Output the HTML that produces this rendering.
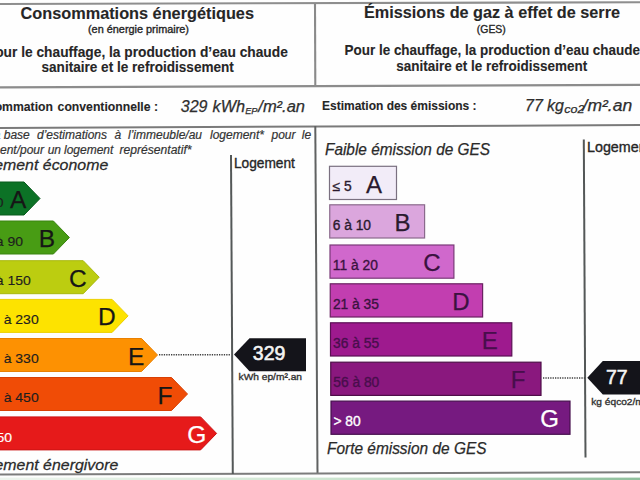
<!DOCTYPE html>
<html><head><meta charset="utf-8">
<style>
html,body{margin:0;padding:0;background:#fefefe;width:640px;height:480px;overflow:hidden}
svg{display:block}
svg{stroke-width:0.35px}
text{font-family:"Liberation Sans",sans-serif}
.b{font-weight:bold;stroke-width:0.1px}
.i{font-style:italic}
</style></head><body>
<svg width="640" height="480" viewBox="0 0 640 480">
<rect x="0" y="0" width="640" height="480" fill="#fefefe"/>
<!-- bottom green tint -->
<defs><linearGradient id="gb" x1="0" x2="1" y1="0" y2="0"><stop offset="0" stop-color="#eef5ee"/><stop offset="0.5" stop-color="#cfe6d2"/><stop offset="1" stop-color="#8fbf9c"/></linearGradient></defs>
<rect x="0" y="477.6" width="640" height="2.4" fill="url(#gb)"/>

<!-- lines -->
<g fill="none" stroke="none">
<line x1="0" y1="4.05" x2="640" y2="2.2" stroke="#8e8e8e" stroke-width="2.1"/>
<line x1="315" y1="3.5" x2="315.3" y2="86" stroke="#8a8a8a" stroke-width="2.1"/>
<line x1="0" y1="87.4" x2="640" y2="84.8" stroke="#8c8c8c" stroke-width="2.2"/>
<line x1="0" y1="127.9" x2="640" y2="125.1" stroke="#7a7a7a" stroke-width="2"/>
<line x1="315.3" y1="126" x2="317.5" y2="474" stroke="#606262" stroke-width="2"/>
<line x1="0" y1="474.6" x2="640" y2="472.2" stroke="#7c7c7c" stroke-width="2"/>
<line x1="231" y1="155" x2="232.8" y2="474" stroke="#545858" stroke-width="2"/>
<line x1="583.8" y1="139.5" x2="585.5" y2="457.5" stroke="#545858" stroke-width="2"/>
</g>

<!-- header left -->
<g fill="#262626" stroke="#262626">
<text class="b" x="20.5" y="19.3" font-size="16.3" textLength="233.5" lengthAdjust="spacingAndGlyphs">Consommations énergétiques</text>
<text x="88" y="33" font-size="10.5" textLength="101" lengthAdjust="spacingAndGlyphs">(en énergie primaire)</text>
<text class="b" x="287.8" y="56.5" font-size="13.75" text-anchor="end">Pour le chauffage, la production d’eau chaude</text>
<text class="b" x="41.5" y="72" font-size="13.75" textLength="192.4" lengthAdjust="spacingAndGlyphs">sanitaire et le refroidissement</text>
</g>
<!-- header right -->
<g fill="#262626" stroke="#262626">
<text class="b" x="364" y="18" font-size="16.3" textLength="256" lengthAdjust="spacingAndGlyphs">Émissions de gaz à effet de serre</text>
<text x="476.8" y="33" font-size="10.7" textLength="29" lengthAdjust="spacingAndGlyphs">(GES)</text>
<text class="b" x="344.5" y="55.4" font-size="13.75" textLength="295.5" lengthAdjust="spacingAndGlyphs">Pour le chauffage, la production d’eau chaude</text>
<text class="b" x="396.2" y="71.3" font-size="13.75" textLength="191" lengthAdjust="spacingAndGlyphs">sanitaire et le refroidissement</text>
</g>

<!-- row 2 -->
<g fill="#262626" stroke="#262626">
<text class="b" x="52.9" y="111.4" font-size="12.2" text-anchor="end">Consommation</text>
<text class="b" x="57.6" y="111.3" font-size="12.2" textLength="100.4" lengthAdjust="spacingAndGlyphs">conventionnelle :</text>
<g class="i" font-size="16" fill="#2e2e2e" style="stroke-width:0.25px" stroke="#2e2e2e">
<text x="180.8" y="112">329</text>
<text x="212.5" y="112" textLength="32.5" lengthAdjust="spacingAndGlyphs">kWh</text>
<text x="245.2" y="113.5" font-size="9.2">EP</text>
<text x="258.3" y="112" textLength="46.7" lengthAdjust="spacingAndGlyphs">/m².an</text>
</g>
<text class="b" x="322" y="110.2" font-size="12.3" textLength="154.6" lengthAdjust="spacingAndGlyphs">Estimation des émissions :</text>
<g class="i" font-size="16" fill="#2e2e2e" style="stroke-width:0.25px" stroke="#2e2e2e">
<text x="525" y="110.6">77</text>
<text x="547" y="110.6">kg</text>
<text x="564.3" y="112.6" font-size="11" textLength="20.2" lengthAdjust="spacingAndGlyphs">co2</text>
<text x="582.6" y="110.6" textLength="49.6" lengthAdjust="spacingAndGlyphs">/m².an</text>
</g>
</g>

<!-- left panel texts -->
<g fill="#333" class="i" font-size="12" style="stroke-width:0.2px" stroke="#333">
<text x="-9" y="139">la</text>
<text x="3.75" y="139">base</text>
<text x="37" y="139">d’estimations</text>
<text x="114.5" y="139">à</text>
<text x="128" y="139">l’immeuble/au</text>
<text x="210" y="139">logement*</text>
<text x="271.5" y="139">pour</text>
<text x="301.8" y="139">le</text>
<text x="44" y="153.5" text-anchor="end">logement/pour</text>
<text x="47.7" y="153.5">un</text>
<text x="64" y="153.5">logement</text>
<text x="119.5" y="153.5" textLength="72" lengthAdjust="spacingAndGlyphs">représentatif*</text>
</g>
<g fill="#2a2a2a" class="i" font-size="15.5" style="stroke-width:0.25px" stroke="#2a2a2a">
<text x="108.3" y="170" text-anchor="end" transform="translate(108.3 0) scale(1.028 1) translate(-108.3 0)">Logement économe</text>
<text x="118.3" y="470" text-anchor="end" transform="translate(118.3 0) scale(1.028 1) translate(-118.3 0)">Logement énergivore</text>
</g>
<text x="233.9" y="167.6" font-size="14.2" fill="#262626" textLength="61" lengthAdjust="spacingAndGlyphs" stroke="#262626">Logement</text>

<!-- left arrows -->
<path d="M-10 182 H24.00 L40 198.50 L24.00 215.00 H-10 Z" fill="#0c7226" stroke="#085a1c" stroke-width="1"/>
<path d="M-10 221 H53.40 L69.4 237.50 L53.40 254.00 H-10 Z" fill="#489c14" stroke="#3a8410" stroke-width="1"/>
<path d="M-10 260.7 H83.20 L99.2 277.20 L83.20 293.70 H-10 Z" fill="#bccd10" stroke="#a8b80c" stroke-width="1"/>
<path d="M-10 299.4 H112.10 L128.1 315.90 L112.10 332.40 H-10 Z" fill="#fde300" stroke="#ecd000" stroke-width="1"/>
<path d="M-10 338.5 H141.50 L157.5 355.00 L141.50 371.50 H-10 Z" fill="#fd9102" stroke="#ea8000" stroke-width="1"/>
<path d="M-10 377.5 H171.50 L187.5 394.00 L171.50 410.50 H-10 Z" fill="#f04c06" stroke="#d84004" stroke-width="1"/>
<path d="M-10 416.9 H200.60 L216.6 433.40 L200.60 449.90 H-10 Z" fill="#e61a1a" stroke="#cc1414" stroke-width="1"/>
<text x="-23.6" y="206.70" font-size="13.6" fill="#1e1e1e" style="stroke-width:0.15px" transform="translate(-23.6 0) scale(1.03 1) translate(23.6 0)" stroke="#1e1e1e">≤ 50</text>
<text x="-23.6" y="245.70" font-size="13.6" fill="#1e1e1e" style="stroke-width:0.15px" transform="translate(-23.6 0) scale(1.03 1) translate(23.6 0)" stroke="#1e1e1e">51 à 90</text>
<text x="-23.6" y="285.40" font-size="13.6" fill="#1e1e1e" style="stroke-width:0.15px" transform="translate(-23.6 0) scale(1.03 1) translate(23.6 0)" stroke="#1e1e1e">91 à 150</text>
<text x="-23.6" y="324.10" font-size="13.6" fill="#1e1e1e" style="stroke-width:0.15px" transform="translate(-23.6 0) scale(1.03 1) translate(23.6 0)" stroke="#1e1e1e">151 à 230</text>
<text x="-23.6" y="363.20" font-size="13.6" fill="#1e1e1e" style="stroke-width:0.15px" transform="translate(-23.6 0) scale(1.03 1) translate(23.6 0)" stroke="#1e1e1e">231 à 330</text>
<text x="-23.6" y="402.20" font-size="13.6" fill="#1e1e1e" style="stroke-width:0.15px" transform="translate(-23.6 0) scale(1.03 1) translate(23.6 0)" stroke="#1e1e1e">331 à 450</text>
<text x="-23.4" y="441.60" font-size="13.6" fill="#fff" style="stroke-width:0.15px" transform="translate(-23.4 0) scale(1.03 1) translate(23.4 0)" stroke="#fff">&gt; 450</text>
<text x="18.2" y="208.00" font-size="24.5" fill="#161616" style="stroke-width:0.25px" text-anchor="middle" stroke="#161616">A</text>
<text x="46.9" y="247.00" font-size="24.5" fill="#161616" style="stroke-width:0.25px" text-anchor="middle" stroke="#161616">B</text>
<text x="77.9" y="286.70" font-size="24.5" fill="#161616" style="stroke-width:0.25px" text-anchor="middle" stroke="#161616">C</text>
<text x="106.8" y="325.40" font-size="24.5" fill="#161616" style="stroke-width:0.25px" text-anchor="middle" stroke="#161616">D</text>
<text x="136.2" y="364.50" font-size="24.5" fill="#161616" style="stroke-width:0.25px" text-anchor="middle" stroke="#161616">E</text>
<text x="164.9" y="403.50" font-size="24.5" fill="#161616" style="stroke-width:0.25px" text-anchor="middle" stroke="#161616">F</text>
<text x="196.9" y="442.90" font-size="24.5" fill="#fff" style="stroke-width:0.25px" text-anchor="middle" stroke="#fff">G</text>
<!-- dotted E -->
<line x1="159" y1="354.8" x2="231" y2="354.8" stroke="#404040" stroke-width="1.5" stroke-dasharray="1.3 1.1"/>
<!-- black arrow 329 -->
<path d="M234 354.6 L249.5 338.2 H306 V371.2 H249.5 Z" fill="#14141a"/>
<text x="252.8" y="360.4" font-size="20.6" fill="#f4f4f4" style="stroke-width:0.6px" textLength="32.6" lengthAdjust="spacingAndGlyphs" stroke="#f4f4f4">329</text>
<text x="238.6" y="380.3" font-size="9.6" fill="#333" textLength="63.4" lengthAdjust="spacingAndGlyphs" stroke="#333">kWh ep/m².an</text>

<!-- right panel -->
<g fill="#2a2a2a" class="i" font-size="15.9" style="stroke-width:0.25px" stroke="#2a2a2a">
<text x="325" y="154.8" textLength="165" lengthAdjust="spacingAndGlyphs">Faible émission de GES</text>
<text x="327" y="453.9" textLength="159.5" lengthAdjust="spacingAndGlyphs">Forte émission de GES</text>
</g>
<text x="587" y="152.4" font-size="14.3" fill="#262626" stroke="#262626">Logement</text>

<rect x="329.50" y="166.3" width="67.00" height="33.2" fill="#f2ecf8" stroke="#7a7080" stroke-width="1.2"/>
<rect x="329.75" y="204.8" width="94.85" height="33.2" fill="#dba6dd" stroke="#8a6a8c" stroke-width="1.2"/>
<rect x="330.00" y="245" width="123.90" height="33.2" fill="#d068cc" stroke="#7a3a78" stroke-width="1.2"/>
<rect x="330.25" y="283.8" width="152.35" height="33.2" fill="#c23eb0" stroke="#6a2262" stroke-width="1.2"/>
<rect x="330.50" y="322.8" width="181.30" height="33.2" fill="#9e1a8e" stroke="#5a1054" stroke-width="1.2"/>
<rect x="330.75" y="362.2" width="210.25" height="33.2" fill="#8a187e" stroke="#4e0e48" stroke-width="1.2"/>
<rect x="331.00" y="401.1" width="239.00" height="33.2" fill="#761a80" stroke="#46104e" stroke-width="1.2"/>
<text x="332.50" y="191.30" font-size="13.8" fill="#2a1a2e" stroke="#2a1a2e">≤ 5</text>
<text x="332.65" y="229.80" font-size="13.8" fill="#2a1a2e" stroke="#2a1a2e">6 à 10</text>
<text x="332.80" y="270.00" font-size="13.8" fill="#3a1240" stroke="#3a1240">11 à 20</text>
<text x="332.95" y="308.80" font-size="13.8" fill="#3a1240" stroke="#3a1240">21 à 35</text>
<text x="333.10" y="347.80" font-size="13.8" fill="#480e4c" stroke="#480e4c">36 à 55</text>
<text x="333.25" y="387.20" font-size="13.8" fill="#480e4c" stroke="#480e4c">56 à 80</text>
<text x="333.40" y="426.10" font-size="13.8" fill="#fff" stroke="#fff">&gt; 80</text>
<text x="374" y="192.50" font-size="24" fill="#2a1a2e" style="stroke-width:0.25px" text-anchor="middle" stroke="#2a1a2e">A</text>
<text x="402.6" y="231.00" font-size="24" fill="#2a1a2e" style="stroke-width:0.25px" text-anchor="middle" stroke="#2a1a2e">B</text>
<text x="432" y="271.20" font-size="24" fill="#3a1240" style="stroke-width:0.25px" text-anchor="middle" stroke="#3a1240">C</text>
<text x="461" y="310.00" font-size="24" fill="#3a1240" style="stroke-width:0.25px" text-anchor="middle" stroke="#3a1240">D</text>
<text x="489.7" y="349.00" font-size="24" fill="#480e4c" style="stroke-width:0.25px" text-anchor="middle" stroke="#480e4c">E</text>
<text x="518" y="388.40" font-size="24" fill="#480e4c" style="stroke-width:0.25px" text-anchor="middle" stroke="#480e4c">F</text>
<text x="549.7" y="427.30" font-size="24" fill="#fff" style="stroke-width:0.25px" text-anchor="middle" stroke="#fff">G</text>
<line x1="543" y1="378" x2="585" y2="378" stroke="#404040" stroke-width="1.5" stroke-dasharray="1.3 1.1"/>
<path d="M587.3 377.8 L602.8 361.1 H660 V394.5 H602.8 Z" fill="#14141a"/>
<text x="606" y="383.7" font-size="20.6" fill="#f4f4f4" style="stroke-width:0.6px" textLength="21.6" lengthAdjust="spacingAndGlyphs" stroke="#f4f4f4">77</text>
<text x="591.3" y="404.5" font-size="9.6" fill="#333" textLength="70" lengthAdjust="spacingAndGlyphs" stroke="#333">kg éqco2/m².an</text>
</svg>
</body></html>
